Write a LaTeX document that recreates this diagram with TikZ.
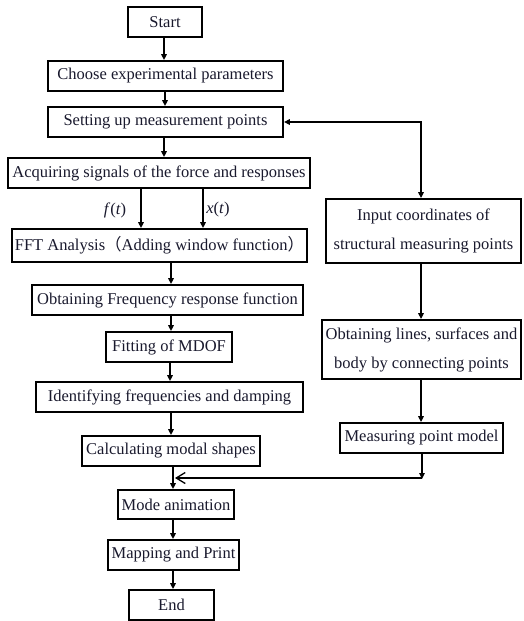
\documentclass[tikz,border=0pt]{standalone}
\usepackage{fontspec}
\setmainfont{Liberation Serif}
\newfontfamily\cjkfont{Noto Sans CJK SC}
\usetikzlibrary{arrows.meta}
\definecolor{txt}{RGB}{25,25,45}
\begin{document}
\begin{tikzpicture}[x=1pt,y=-1pt,
  box/.style={draw=black, line width=1.8pt, inner sep=0pt, text=txt,
    font=\fontsize{16.5}{29}\selectfont, align=center},
  lbl/.style={inner sep=0pt, text=txt, font=\fontsize{16.5}{20}\selectfont},
  arr/.style={line width=1.4pt, -{Triangle[length=6pt,width=5.5pt]}},
  barr/.style={line width=1.4pt, {Triangle[length=6pt,width=5.5pt]}-{Triangle[length=6pt,width=5.5pt]}},
  openarr/.style={line width=1.4pt, -{Straight Barb[length=9pt,width=11pt,line width=1.3pt]}}]
\useasboundingbox[fill=white] (0,0) rectangle (523,621);

% left column
\node[box, minimum width=74pt,  minimum height=30pt] (start) at (165,22)    {Start};
\node[box, minimum width=235pt, minimum height=30pt] (choose) at (165.5,76) {Choose experimental parameters};
\node[box, minimum width=235pt, minimum height=30pt] (setting) at (165.5,122) {Setting up measurement points};
\node[box, minimum width=302pt, minimum height=30pt] (acq) at (159,173) {Acquiring signals of the force and responses};
\node[box, minimum width=295pt, minimum height=33pt] (fft) at (159.5,245.5) {FFT Analysis{\cjkfont （}Adding window function{\cjkfont ）}};
\node[box, minimum width=271pt, minimum height=30pt] (freq) at (167.5,300) {Obtaining Frequency response function};
\node[box, minimum width=126pt, minimum height=30pt] (fit) at (169,347) {Fitting of MDOF};
\node[box, minimum width=267pt, minimum height=30pt] (ident) at (169.5,397) {Identifying frequencies and damping};
\node[box, minimum width=178pt, minimum height=30pt] (calc) at (171,451) {Calculating modal shapes};
\node[box, minimum width=116pt, minimum height=29pt] (mode) at (176,504.5) {Mode animation};
\node[box, minimum width=131pt, minimum height=30pt] (map) at (173.5,555) {Mapping and Print};
\node[box, minimum width=85pt,  minimum height=30pt] (end) at (171.5,605) {End};

% right column
\node[box, minimum width=195pt, minimum height=64pt] (input) at (423.5,231) {Input coordinates of\\structural measuring points};
\node[box, minimum width=199pt, minimum height=59pt] (lines) at (421.5,349.5) {Obtaining lines, surfaces and\\body by connecting points};
\node[box, minimum width=163pt, minimum height=30pt] (mpm) at (421.5,438) {Measuring point model};

% signal labels
\node[lbl] (ft) at (115,210) {\textit{f}(\textit{t})};
\node[lbl] (xt) at (218,210) {\textit{x}(\textit{t})};

% connectors left column
\draw[arr] (start.south -| 164,0) -- (choose.north -| 164,0);
\draw[arr] (choose.south -| 165,0) -- (setting.north -| 165,0);
\draw[arr] (setting.south -| 164,0) -- (acq.north -| 164,0);
\draw[arr] (acq.south -| 141,0) -- (fft.north -| 141,0);
\draw[arr] (acq.south -| 203,0) -- (fft.north -| 203,0);
\draw[arr] (fft.south -| 171,0) -- (freq.north -| 171,0);
\draw[arr] (freq.south -| 171,0) -- (fit.north -| 171,0);
\draw[arr] (fit.south -| 170,0) -- (ident.north -| 170,0);
\draw[arr] (ident.south -| 171,0) -- (calc.north -| 171,0);
\draw[arr] (calc.south -| 173,0) -- (mode.north -| 173,0);
\draw[arr] (mode.south -| 173,0) -- (map.north -| 173,0);
\draw[arr] (map.south -| 173,0) -- (end.north -| 173,0);

% connectors right column
\draw[barr] (setting.east) -| (input.north -| 421,0);
\draw[arr] (input.south -| 421,0) -- (lines.north -| 421,0);
\draw[arr] (lines.south -| 421,0) -- (mpm.north -| 421,0);
\coordinate (corner) at (422,478);
\coordinate (join) at (175,478);
\draw[arr] (mpm.south -| 422,0) -- ([yshift=-1pt]corner);
\draw[openarr] (corner) -- (join);
\end{tikzpicture}
\end{document}
